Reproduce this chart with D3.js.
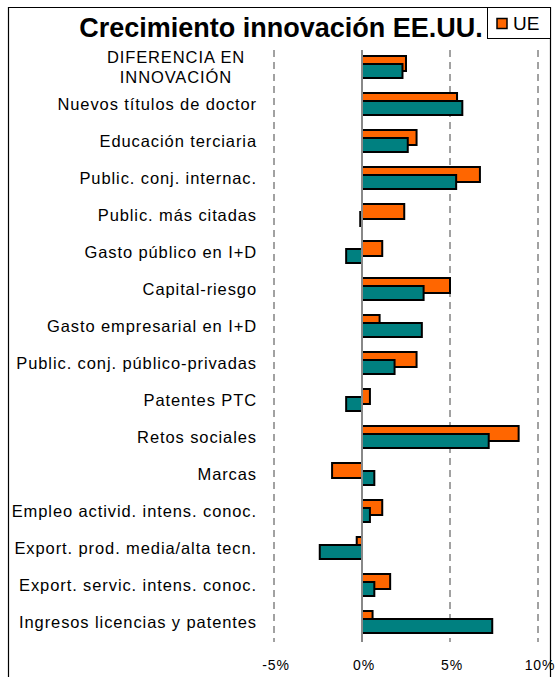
<!DOCTYPE html>
<html>
<head>
<meta charset="utf-8">
<script src="https://cdn.jsdelivr.net/npm/d3@7"></script>
<style>
  body { margin: 0; background: #fff; }
  svg text { font-family: "Liberation Sans", Arial, sans-serif; }
</style>
</head>
<body>
<div class="chart"></div>
<script>
// categories, top to bottom
const categories = [
  "DIFERENCIA EN\nINNOVACIÓN",
  "Nuevos títulos de doctor",
  "Educación terciaria",
  "Public. conj. internac.",
  "Public. más citadas",
  "Gasto público en I+D",
  "Capital-riesgo",
  "Gasto empresarial en I+D",
  "Public. conj. público-privadas",
  "Patentes PTC",
  "Retos sociales",
  "Marcas",
  "Empleo activid. intens. conoc.",
  "Export. prod. media/alta tecn.",
  "Export. servic. intens. conoc.",
  "Ingresos licencias y patentes"
];
// growth (%)
const ueValues   = [2.5, 5.4, 3.1, 6.7, 2.4, 1.15, 5.0, 1.0, 3.1, 0.45, 8.9, -1.7, 1.15, -0.3, 1.6, 0.6];
const eeuuValues = [2.3, 5.7, 2.6, 5.35, -0.1, -0.9, 3.5, 3.4, 1.85, -0.9, 7.2, 0.7, 0.45, -2.4, 0.7, 7.4];
const ticks = [-5, 0, 5, 10];

const W = 556, H = 677;
const svg = d3.select("div.chart").append("svg")
  .attr("width", W).attr("height", H);

// outer frame (bottom runs off the picture)
svg.append("path")
  .attr("d", `M8.5,${H + 5} V7.5 H550.5 V${H + 5}`)
  .attr("fill", "none").attr("stroke", "#000").attr("stroke-width", 1.2);

const x = d3.scaleLinear().domain([-5, 10]).range([274, 538]);
const y = d3.scaleBand().domain(categories).range([48.5, 640.5]);
const bw = y.bandwidth();
const top0 = 50, bot0 = 642;

// dashed grid lines
svg.append("g").selectAll("line")
  .data(ticks.filter(t => t !== 0))
  .join("line")
  .attr("x1", d => x(d)).attr("x2", d => x(d))
  .attr("y1", top0).attr("y2", bot0)
  .attr("stroke", "#444").attr("stroke-width", 1)
  .attr("stroke-dasharray", "7,5");

// bars: orange on top, teal below it, overlapping
const rows = categories.map((c, i) => ({ cat: c, ue: ueValues[i], us: eeuuValues[i] }));
const bars = svg.append("g");
bars.selectAll("rect.ue")
  .data(rows).join("rect").attr("class", "ue")
  .attr("x", d => x(Math.min(0, d.ue)))
  .attr("width", d => Math.abs(x(d.ue) - x(0)))
  .attr("y", d => y(d.cat) + bw / 2 - 11)
  .attr("height", 15)
  .attr("fill", "#ff6600").attr("stroke", "#000").attr("stroke-width", 2);
bars.selectAll("rect.us")
  .data(rows).join("rect").attr("class", "us")
  .attr("x", d => x(Math.min(0, d.us)))
  .attr("width", d => Math.max(1, Math.abs(x(d.us) - x(0))))
  .attr("y", d => y(d.cat) + bw / 2 - 3)
  .attr("height", 14)
  .attr("fill", "#008080").attr("stroke", "#000").attr("stroke-width", 2);

// zero line
svg.append("line")
  .attr("x1", x(0)).attr("x2", x(0))
  .attr("y1", top0).attr("y2", bot0)
  .attr("stroke", "#888").attr("stroke-width", 2);

// category labels
const lab = svg.append("g").attr("font-size", 16.5).attr("fill", "#000")
  .style("letter-spacing", "0.9px");
rows.forEach((d, i) => {
  const lines = d.cat.split("\n");
  const cy = y(d.cat) + bw / 2;
  if (lines.length === 1) {
    lab.append("text")
      .attr("x", 257).attr("y", cy).attr("dy", "0.35em")
      .attr("text-anchor", "end").text(d.cat);
  } else {
    lines.forEach((l, j) => {
      lab.append("text")
        .attr("x", 176).attr("y", cy + (j - 0.5) * 19.5).attr("dy", "0.35em")
        .attr("text-anchor", "middle").text(l);
    });
  }
});

// x tick labels
svg.append("g").selectAll("text")
  .data(ticks).join("text")
  .attr("x", d => x(d) + 2).attr("y", 670)
  .attr("text-anchor", "middle").attr("font-size", 14)
  .style("letter-spacing", "0.8px")
  .text(d => d + "%");

// title
svg.append("text")
  .attr("x", 281).attr("y", 37)
  .attr("text-anchor", "middle")
  .attr("font-size", 27).attr("font-weight", "bold")
  .text("Crecimiento innovación EE.UU.");

// legend (only UE entry visible)
const leg = svg.append("g");
leg.append("rect")
  .attr("x", 487.5).attr("y", 7.5).attr("width", 63).attr("height", 31)
  .attr("fill", "#fff").attr("stroke", "#000").attr("stroke-width", 1);
leg.append("rect")
  .attr("x", 497).attr("y", 18.5).attr("width", 10).attr("height", 10)
  .attr("fill", "#ff6600").attr("stroke", "#000").attr("stroke-width", 1.5);
leg.append("text")
  .attr("x", 513).attr("y", 30)
  .attr("font-size", 19).text("UE");
</script>
</body>
</html>
